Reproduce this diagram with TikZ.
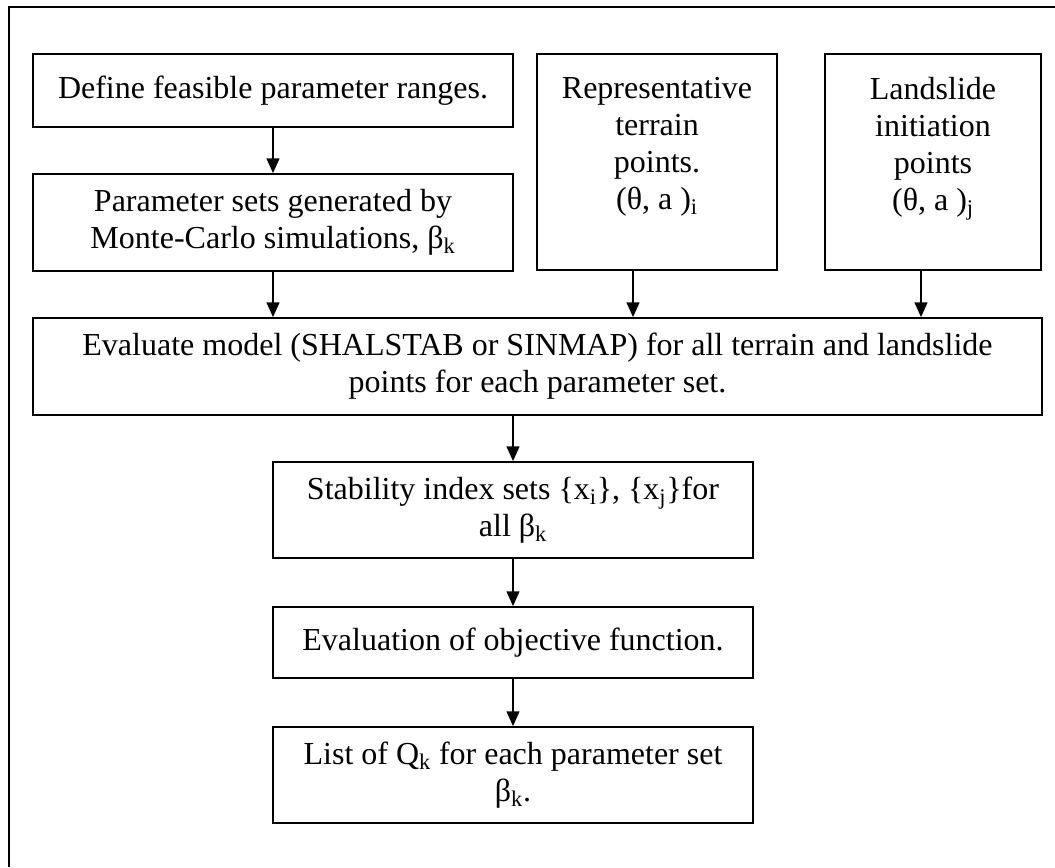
\documentclass[tikz,border=0pt]{standalone}
\usepackage{fontspec}
\setmainfont{Liberation Serif}
\usetikzlibrary{arrows.meta}
\begin{document}
\begin{tikzpicture}[x=0.75pt,y=-0.75pt,
  box/.style={draw,line width=1.3pt,inner sep=0pt,align=center,
    font=\fontsize{24pt}{27.75pt}\selectfont},
  conn/.style={line width=1.3pt,-{Triangle[length=11pt,width=9.5pt]}},
  frameline/.style={line width=1.6pt}]
\useasboundingbox (0,0) rectangle (1055,867);
\draw[frameline] (9,867) -- (9,7) -- (1055,7);

\node[box,minimum width=360pt,minimum height=54.75pt] (def) at (273,90.5)
  {Define feasible parameter ranges.};
\node[box,minimum width=360pt,minimum height=72.75pt] (par) at (273,222.5)
  {Parameter sets generated by\\Monte-Carlo simulations, β\textsubscript{k}};
\node[box,minimum width=180pt,minimum height=162pt] (rep) at (657,162)
  {Representative\\terrain\\points.\\(θ, a )\textsubscript{i}\\\mbox{}};
\node[box,minimum width=162pt,minimum height=162pt] (lan) at (933,162)
  {Landslide\\initiation\\points\\(θ, a )\textsubscript{j}\\\mbox{}};
\node[box,minimum width=756.75pt,minimum height=72.75pt] (eva) at (537.5,366.5)
  {Evaluate model (SHALSTAB or SINMAP) for all terrain and landslide\\points for each parameter set.};
\node[box,minimum width=360pt,minimum height=72pt] (sta) at (513,510)
  {Stability index sets \{x\textsubscript{i}\}, \{x\textsubscript{j}\}for\\all β\textsubscript{k}};
\node[box,minimum width=360pt,minimum height=53.25pt] (obj) at (513,642.5)
  {Evaluation of objective function.};
\node[box,minimum width=360pt,minimum height=72pt] (lst) at (513,775)
  {List of Q\textsubscript{k} for each parameter set\\β\textsubscript{k}.};

\coordinate (r1) at (633,270);
\coordinate (l1) at (921,270);

\draw[conn] (def.south) -- (par.north);
\draw[conn] (par.south) -- (par.south |- eva.north);
\draw[conn] (r1) -- (r1 |- eva.north);
\draw[conn] (l1) -- (l1 |- eva.north);
\draw[conn] (sta.north |- eva.south) -- (sta.north);
\draw[conn] (sta.south) -- (obj.north);
\draw[conn] (obj.south) -- (lst.north);
\end{tikzpicture}
\end{document}
